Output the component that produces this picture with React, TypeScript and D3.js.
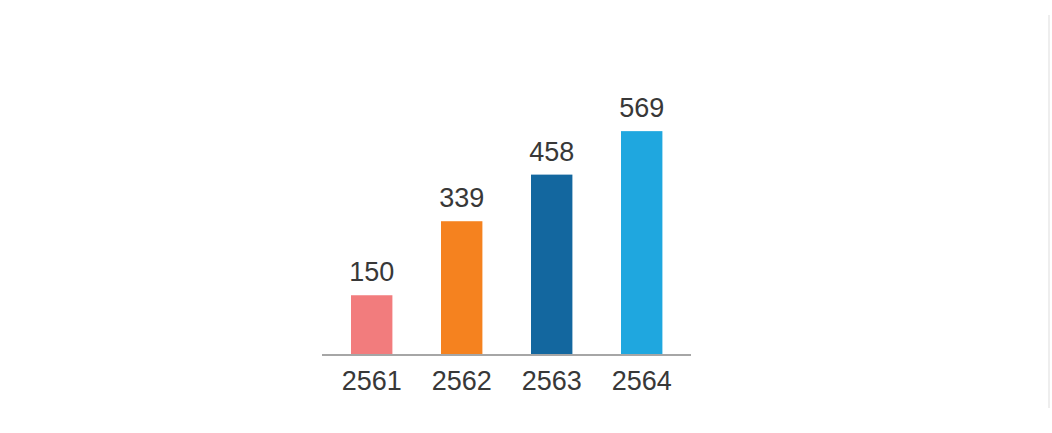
import React from "react";
import * as d3 from "d3";

const categories = ["2561", "2562", "2563", "2564"];
const values = [150, 339, 458, 569];
const colors = ["#f27c7d", "#f5821f", "#13679f", "#1fa7df"];

const W = 1052;
const H = 433;
const baseY = 354;

export default function App() {
  const x = d3
    .scaleBand<string>()
    .domain(categories)
    .range([326.7, 686.7])
    .paddingInner(0.54)
    .paddingOuter(0.27);
  const y = d3.scaleLinear().domain([0, 600]).range([baseY, baseY - 235]);
  const font = "Liberation Sans, Arial, sans-serif";

  return (
    <svg
      width={W}
      height={H}
      style={{ position: "absolute", left: 0, top: 0, background: "#fff" }}
    >
      <line x1={1049} x2={1049} y1={15} y2={408} stroke="#eeeeee" strokeWidth={2} />
      {categories.map((c, i) => {
        const bx = x(c)!;
        const bw = x.bandwidth();
        const top = y(values[i]);
        return (
          <g key={c}>
            <rect x={bx} y={top} width={bw} height={baseY - top} fill={colors[i]} />
            <text
              x={bx + bw / 2}
              y={top - 14}
              textAnchor="middle"
              fontFamily={font}
              fontSize={27}
              fill="#383838"
            >
              {values[i]}
            </text>
            <text
              x={bx + bw / 2}
              y={390}
              textAnchor="middle"
              fontFamily={font}
              fontSize={27}
              fill="#383838"
            >
              {c}
            </text>
          </g>
        );
      })}
      <line x1={322} x2={691} y1={baseY + 1} y2={baseY + 1} stroke="#a6a6a6" strokeWidth={2} />
    </svg>
  );
}
